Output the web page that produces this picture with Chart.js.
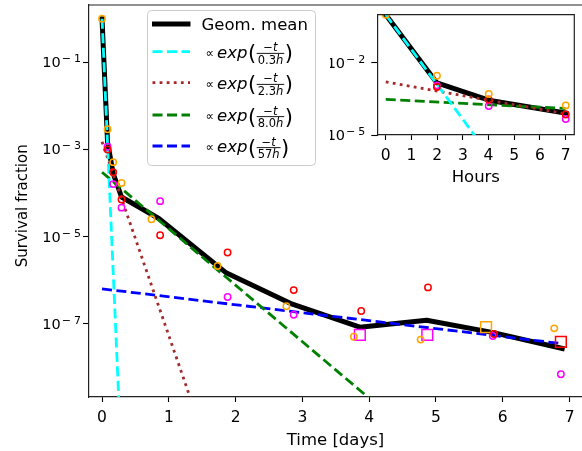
<!DOCTYPE html>
<html>
<head>
<meta charset="utf-8">
<script src="https://cdn.jsdelivr.net/npm/chart.js@4.4.0/dist/chart.umd.min.js"></script>
<style>
  html, body { margin: 0; padding: 0; background: #fff; }
  #wrap { position: relative; width: 582px; height: 451px; }
  #inset { position: absolute; left: 330px; top: 0; }
</style>
</head>
<body>
<div id="wrap">
  <canvas id="chart" width="582" height="451"></canvas>
  <canvas id="inset" width="252" height="200"></canvas>
</div>
<script>
// samples, time in days
const orangeT = [0, 0.083, 0.167, 0.292, 0.74, 1.73, 2.76, 3.77, 4.77, 6.77];
const orangeY = [1.0, 2.9e-3, 5.1e-4, 1.7e-4, 2.5e-5, 2.1e-6, 2.5e-7, 5.0e-8, 4.3e-8, 7.8e-8];
const redT = [0.083, 0.167, 0.292, 0.87, 1.88, 2.87, 3.88, 4.88, 5.87];
const redY = [1.0e-3, 3.0e-4, 7.1e-5, 1.07e-5, 4.3e-6, 5.9e-7, 1.95e-7, 6.8e-7, 5.8e-8];
const magentaT = [0.083, 0.167, 0.292, 0.87, 1.88, 2.87, 5.85, 6.87];
const magentaY = [1.15e-3, 1.6e-4, 4.6e-5, 6.5e-5, 4.1e-7, 1.6e-7, 5.2e-8, 6.9e-9];

// open squares
const orangeSqT = [5.75];
const orangeSqY = [8.3e-8];
const redSqT = [6.87];
const redSqY = [3.8e-8];
const magentaSqT = [3.86, 4.87];
const magentaSqY = [5.5e-8, 5.5e-8];

// geometric mean
const meanT = [0, 0.083, 0.167, 0.292, 0.85, 1.85, 2.85, 3.86, 4.86, 5.84, 6.89];
const meanY = [1.0, 1.45e-3, 2.8e-4, 8.1e-5, 2.6e-5, 1.5e-6, 2.8e-7, 8.3e-8, 1.2e-7, 6.3e-8, 2.7e-8];

// exponential fits (start / end points, days)
const fitTaus = ['0.3h', '2.3h', '8.0h', '57h'];
const fitT = [[0, 0.25], [0, 1.32], [0, 3.99], [0, 6.87]];
const fitY = [[1.0, 2.0e-9], [1.5e-3, 2.0e-9], [3.0e-4, 2.0e-9], [6.3e-7, 3.5e-8]];
// same fits in the inset (hours)
const insetFitT = [[0, 6], [0, 7], [0, 7]];
const insetFitY = [[1.0, 2.0e-9], [1.6e-3, 7.6e-5], [3.0e-4, 1.26e-4]];

const xTicks = [0, 1, 2, 3, 4, 5, 6, 7];
const yTicks = [1e-7, 1e-5, 1e-3, 1e-1];
const yTickLabels = ['10^−7', '10^−5', '10^−3', '10^−1'];
const insetXTicks = [0, 1, 2, 3, 4, 5, 6, 7];
const insetYTicks = [1e-5, 1e-2];
const insetYTickLabels = ['10^−5', '10^−2'];

const FONT = '"DejaVu Sans", sans-serif';
Chart.defaults.font.family = FONT;
Chart.defaults.color = '#000';

const fitColors = ['#00ffff', '#a52a2a', '#008000', '#0000ff'];
const fitDash = [[10, 4.5], [2.8, 4.3], [10, 4.5], [10, 4.5]];

function pts(ts, ys, k) {
    return ts.map(function (t, i) {
        return { x: t * k, y: ys[i] };
    });
}

function marks(ts, ys, color, k, style) {
    return {
        data: pts(ts, ys, k),
        showLine: false,
        pointStyle: style,
        pointRadius: style === "rect" ? 7.6 : 3.2,
        pointBorderColor: color,
        pointBackgroundColor: "rgba(0,0,0,0)",
        pointBorderWidth: 1.5,
        order: 0,
    };
}

function line(ts, ys, color, width, dash, k, order) {
    return {
        data: pts(ts, ys, k),
        showLine: true,
        borderColor: color,
        borderWidth: width,
        borderDash: dash,
        borderCapStyle: dash.length ? "butt" : "square",
        borderJoinStyle: "round",
        pointRadius: 0,
        tension: 0,
        clip: 0,
        order: order,
    };
}

// matplotlib style 10^n labels
function powLabels(values, labels, gap) {
    return {
        id: "powLabels",
        afterDraw(chart) {
            const ctx = chart.ctx;
            const s = chart.scales.y;
            ctx.save();
            ctx.fillStyle = "#000";
            ctx.textAlign = "left";
            ctx.textBaseline = "alphabetic";
            values.forEach(function (v, i) {
                const y = s.getPixelForValue(v);
                const parts = labels[i].split("^");
                ctx.font = "11px " + FONT;
                const wm = ctx.measureText(parts[1][0]).width;
                const wd = ctx.measureText(parts[1].slice(1)).width;
                ctx.font = "14.5px " + FONT;
                const wb = ctx.measureText(parts[0]).width;
                let x = s.right - gap - wd - wm - wb - 4;
                ctx.fillText(parts[0], x, y + 5);
                ctx.font = "11px " + FONT;
                x += wb + 1;
                ctx.fillText(parts[1][0], x, y);
                ctx.fillText(parts[1].slice(1), x + wm + 3, y);
            });
            ctx.restore();
        },
    };
}

function frame(sides) {
    return {
        id: "frame",
        beforeDraw(chart) {
            if (!sides.fill) return;
            const a = chart.chartArea;
            chart.ctx.save();
            chart.ctx.fillStyle = "#fff";
            chart.ctx.fillRect(a.left, a.top, a.right - a.left, a.bottom - a.top);
            chart.ctx.restore();
        },
        afterDraw(chart) {
            const a = chart.chartArea;
            const ctx = chart.ctx;
            ctx.save();
            ctx.strokeStyle = "#222";
            ctx.lineWidth = 1.2;
            ctx.beginPath();
            ctx.moveTo(a.left, a.top);
            ctx.lineTo(a.right, a.top);
            if (sides.right) {
                ctx.lineTo(a.right, a.bottom);
            }
            ctx.stroke();
            ctx.restore();
        },
    };
}

// legend with the fraction labels
const mathLegend = {
    id: "mathLegend",
    afterDatasetsDraw(chart) {
        const ctx = chart.ctx;
        const rows = [24, 51.7, 82.7, 115, 146];
        ctx.save();
        ctx.beginPath();
        ctx.roundRect(147.5, 10.5, 168, 155, 4);
        ctx.fillStyle = "rgba(255,255,255,0.8)";
        ctx.fill();
        ctx.strokeStyle = "#cccccc";
        ctx.lineWidth = 1;
        ctx.stroke();

        const handles = [
            { color: "#000", width: 5, dash: [] },
        ].concat(fitColors.map(function (c, i) {
            return { color: c, width: 2.8, dash: fitDash[i] };
        }));

        handles.forEach(function (h, i) {
            ctx.beginPath();
            ctx.setLineDash(h.dash);
            ctx.lineCap = h.dash.length ? "butt" : "square";
            ctx.strokeStyle = h.color;
            ctx.lineWidth = h.width;
            ctx.moveTo(h.dash.length ? 152.5 : 154.5, rows[i]);
            ctx.lineTo(h.dash.length ? 190 : 188, rows[i]);
            ctx.stroke();
        });
        ctx.setLineDash([]);
        ctx.fillStyle = "#000";
        ctx.textBaseline = "alphabetic";
        ctx.textAlign = "left";
        ctx.font = "16.5px " + FONT;
        ctx.fillText("Geom. mean", 201.5, rows[0] + 6);

        fitTaus.forEach(function (tau, i) {
            const cy = rows[i + 1];
            const bar = cy + 1.6;
            let x = 205.5;
            ctx.font = "12px " + FONT;
            ctx.fillText("∝", x, cy + 5);
            x += ctx.measureText("∝").width + 3;
            ctx.font = "italic 16.5px " + FONT;
            ctx.fillText("exp", x, cy + 6);
            x += ctx.measureText("exp").width + 0.5;
            ctx.font = "21px " + FONT;
            ctx.fillText("(", x, cy + 8.5);
            x += ctx.measureText("(").width + 0.5;
            // fraction
            ctx.font = "11.5px " + FONT;
            const num = ctx.measureText("−").width;
            const digits = tau.slice(0, -1);
            const wDig = ctx.measureText(digits).width;
            ctx.font = "italic 11.5px " + FONT;
            const wt = ctx.measureText("t").width;
            const wh = ctx.measureText("h").width;
            const wNum = num + wt;
            const wDen = wDig + wh;
            const fw = Math.max(wNum, wDen) + 2;
            ctx.fillRect(x, bar - 0.4, fw, 0.9);
            let nx = x + (fw - wNum) / 2;
            ctx.font = "11.5px " + FONT;
            ctx.fillText("−", nx, bar - 2);
            ctx.font = "italic 11.5px " + FONT;
            ctx.fillText("t", nx + num, bar - 2);
            let dx = x + (fw - wDen) / 2;
            ctx.font = "11.5px " + FONT;
            ctx.fillText(digits, dx, bar + 10.5);
            ctx.font = "italic 11.5px " + FONT;
            ctx.fillText("h", dx + wDig, bar + 10.5);
            x += fw + 0.5;
            ctx.font = "21px " + FONT;
            ctx.fillText(")", x, cy + 8.5);
        });
        ctx.restore();
    },
};

function axisX(min, max, ticks, title, titlePad, height) {
    return {
        type: "linear",
        min: min,
        max: max,
        afterBuildTicks(s) {
            s.ticks = ticks.map(function (v) { return { value: v }; });
        },
        afterFit(s) {
            s.height = height;
            s.paddingLeft = 0;
            s.paddingRight = 0;
        },
        grid: { display: true, drawOnChartArea: false, drawTicks: true, tickLength: 5, tickColor: "#000", tickWidth: 1.1 },
        border: { display: true, color: "#222", width: 1.2 },
        ticks: { font: { size: 15.5 }, padding: 7, maxRotation: 0, color: "#000" },
        title: { display: true, text: title, font: { size: 16.5 }, padding: { top: 0, bottom: titlePad }, color: "#000" },
    };
}

function axisY(min, max, ticks, title, width) {
    return {
        type: "logarithmic",
        min: min,
        max: max,
        afterBuildTicks(s) {
            s.ticks = ticks.map(function (v) { return { value: v }; });
        },
        afterFit(s) {
            s.width = width;
            s.paddingTop = 0;
            s.paddingBottom = 0;
        },
        grid: { display: true, drawOnChartArea: false, drawTicks: true, tickLength: 6, tickColor: "#000", tickWidth: 1.1 },
        border: { display: true, color: "#222", width: 1.2 },
        ticks: { display: false },
        title: { display: !!title, text: title, font: { size: 15 }, padding: { top: 14, bottom: 0 }, color: "#000" },
    };
}

function sampleSets(k, tMax) {
    const keep = function (ts, ys) {
        const t2 = [], y2 = [];
        ts.forEach(function (t, i) {
            if (t * k <= tMax) { t2.push(t); y2.push(ys[i]); }
        });
        return [t2, y2];
    };
    const o = keep(orangeT, orangeY), r = keep(redT, redY), m = keep(magentaT, magentaY);
    const sets = [
        marks(o[0], o[1], "#ffa500", k, "circle"),
        marks(r[0], r[1], "#ff0000", k, "circle"),
        marks(m[0], m[1], "#ff00ff", k, "circle"),
    ];
    if (tMax > 24) {
        sets.push(marks(orangeSqT, orangeSqY, "#ffa500", k, "rect"));
        sets.push(marks(redSqT, redSqY, "#ff0000", k, "rect"));
        sets.push(marks(magentaSqT, magentaSqY, "#ff00ff", k, "rect"));
    }
    const mm = keep(meanT, meanY);
    sets.push(line(mm[0], mm[1], "#000", 5, [], k, 2));
    return sets;
}

// main chart
const mainSets = sampleSets(1, 100);
fitT.forEach(function (ts, i) {
    mainSets.push(line(ts, fitY[i], fitColors[i], 2.8, fitDash[i], 1, 1));
});

new Chart(document.getElementById("chart"), {
    type: "scatter",
    data: { datasets: mainSets },
    options: {
        responsive: false,
        animation: false,
        events: [],
        devicePixelRatio: 1,
        layout: { autoPadding: false, padding: { top: 5, right: 0, bottom: 0, left: 0 } },
        plugins: { legend: { display: false }, tooltip: { enabled: false } },
        scales: {
            x: axisX(-0.195, 7.186, xTicks, "Time [days]", 0, 54),
            // two trailing nbsp nudge the rotated title down a little
            y: axisY(2.07e-9, 2.07, yTicks, "Survival fraction\u00a0\u00a0", 89),
        },
    },
    plugins: [frame({ right: false }), powLabels(yTicks, yTickLabels, 8), mathLegend],
});

// inset, hours
const insetSets = sampleSets(24, 7.5);
insetFitT.forEach(function (ts, i) {
    insetSets.push(line(ts, insetFitY[i], fitColors[i], 2.8, fitDash[i], 1, 1));
});

new Chart(document.getElementById("inset"), {
    type: "scatter",
    data: { datasets: insetSets },
    options: {
        responsive: false,
        animation: false,
        events: [],
        devicePixelRatio: 1,
        layout: { autoPadding: false, padding: { top: 14.7, right: 7.7, bottom: 0, left: 0 } },
        plugins: { legend: { display: false }, tooltip: { enabled: false } },
        scales: {
            x: axisX(-0.33, 7.34, insetXTicks, "Hours", 12.5, 65),
            y: axisY(1e-5, 1.0, insetYTicks, "", 47.3),
        },
    },
    plugins: [frame({ right: true, fill: true }), powLabels(insetYTicks, insetYTickLabels, 12)],
});
</script>
</body>
</html>
